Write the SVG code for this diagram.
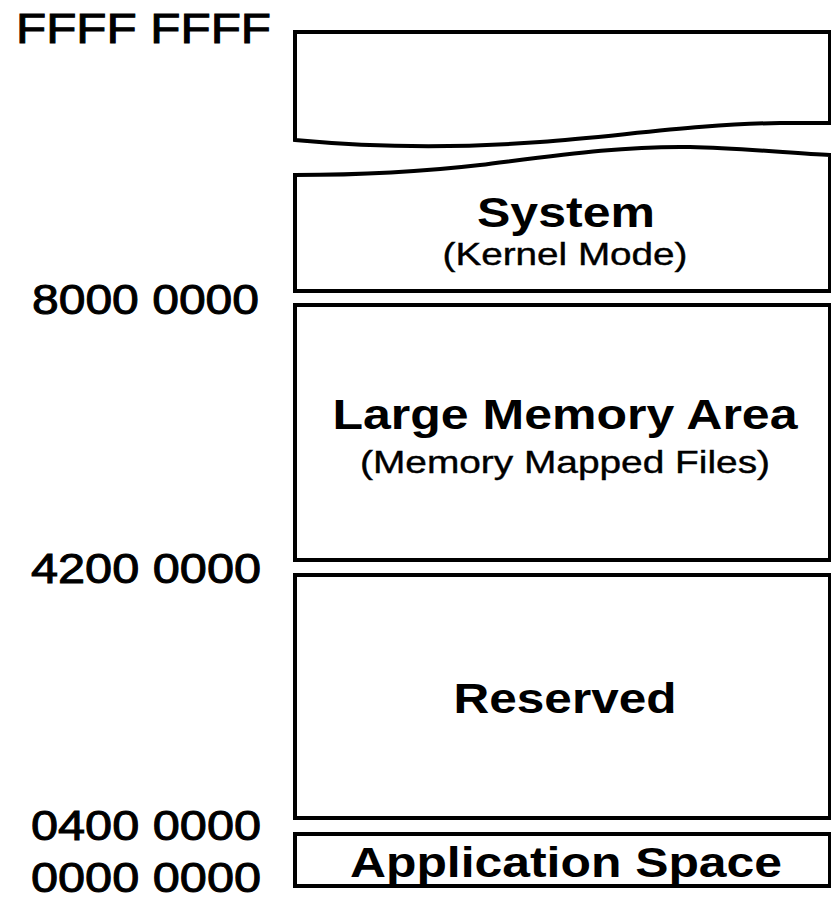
<svg xmlns="http://www.w3.org/2000/svg" width="831" height="898" viewBox="0 0 831 898">
  <style>
    .box { fill: #ffffff; stroke: #000000; stroke-width: 4; stroke-linejoin: miter; }
    .addr { font-family: "Liberation Sans", Arial, sans-serif; font-size: 43px; fill: #000000; stroke: #000000; stroke-width: 1; }
    .title { font-family: "Liberation Sans", Arial, sans-serif; font-weight: bold; font-size: 43px; fill: #000000; text-anchor: middle; }
    .sub { font-family: "Liberation Sans", Arial, sans-serif; font-size: 32px; fill: #000000; stroke: #000000; stroke-width: 0.4; text-anchor: middle; }
  </style>
  <rect width="831" height="898" fill="#ffffff"/>

  <!-- address scale on the left -->
  <g id="addresses">
    <text class="addr" x="16" y="43" textLength="255" lengthAdjust="spacingAndGlyphs">FFFF FFFF</text>
    <text class="addr" x="32" y="314" textLength="227" lengthAdjust="spacingAndGlyphs">8000 0000</text>
    <text class="addr" x="31" y="583" textLength="230" lengthAdjust="spacingAndGlyphs">4200 0000</text>
    <text class="addr" x="31" y="840" textLength="230" lengthAdjust="spacingAndGlyphs">0400 0000</text>
    <text class="addr" x="31" y="892" textLength="230" lengthAdjust="spacingAndGlyphs">0000 0000</text>
  </g>

  <!-- upper region, broken off by a wavy edge -->
  <g id="upper">
    <path class="box" d="M295,32 H830 V123 H780 C700,124 620,136 540,142 C460,148 380,148 295,140 Z"/>
  </g>

  <!-- system (kernel mode) region -->
  <g id="system">
    <path class="box" d="M295,175 C360,175 420,172 480,165 C560,155 620,146 690,147 C740,148 790,153 830,155 V291 H295 Z"/>
    <text class="title" x="566" y="227" textLength="178" lengthAdjust="spacingAndGlyphs">System</text>
    <text class="sub" x="565" y="265" textLength="245" lengthAdjust="spacingAndGlyphs">(Kernel Mode)</text>
  </g>

  <!-- large memory area -->
  <g id="large-memory">
    <rect class="box" x="295" y="305" width="535" height="255"/>
    <text class="title" x="565" y="429" textLength="465" lengthAdjust="spacingAndGlyphs">Large Memory Area</text>
    <text class="sub" x="565" y="473" textLength="410" lengthAdjust="spacingAndGlyphs">(Memory Mapped Files)</text>
  </g>

  <!-- reserved region -->
  <g id="reserved">
    <rect class="box" x="295" y="575" width="535" height="243"/>
    <text class="title" x="565" y="713" textLength="223" lengthAdjust="spacingAndGlyphs">Reserved</text>
  </g>

  <!-- application space -->
  <g id="application">
    <rect class="box" x="295" y="834" width="535" height="52"/>
    <text class="title" x="566" y="877" textLength="432" lengthAdjust="spacingAndGlyphs">Application Space</text>
  </g>
</svg>
